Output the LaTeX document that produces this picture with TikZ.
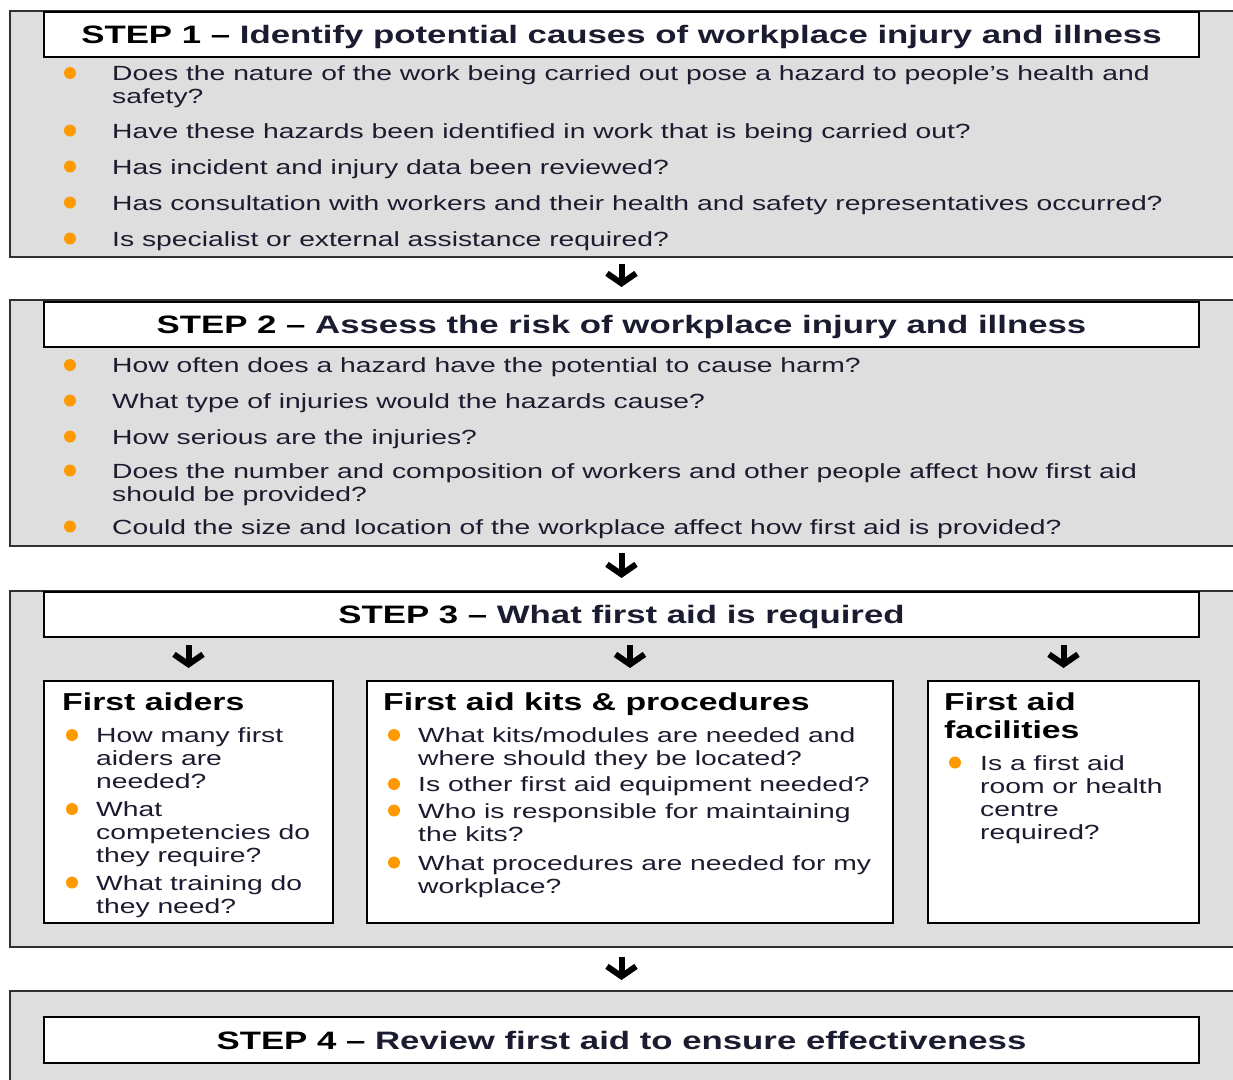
\documentclass[tikz,border=0pt]{standalone}
\usepackage{fontspec}
\setmainfont{Liberation Sans}[FakeStretch=1.38]
\usetikzlibrary{arrows.meta, positioning}

\definecolor{panelgray}{RGB}{222,222,222}
\definecolor{dotorange}{RGB}{255,153,0}
\definecolor{inkblue}{RGB}{28,28,48}
\definecolor{rulegray}{RGB}{48,48,48}

\tikzset{
  panel/.style={fill=panelgray, anchor=north west, inner sep=0pt, outer sep=0pt, minimum width=1223pt},
  panelrule/.style={draw=rulegray, line width=1.6pt},
  headbox/.style={draw=black, fill=white, line width=1.8pt, anchor=north west, outer sep=0pt,
    minimum width=1155pt, minimum height=45pt, inner sep=0pt, text height=21pt, text depth=3pt,
    font=\fontsize{25.2}{28}\selectfont\bfseries, text=inkblue},
  subbox/.style={draw=black, fill=white, line width=1.8pt, anchor=north west, outer sep=0pt,
    minimum height=242pt, inner sep=0pt},
  subtitle/.style={anchor=base west, inner sep=0pt, align=left, font=\fontsize{24.5}{28}\selectfont\bfseries},
  question/.style={anchor=base west, inner sep=0pt, align=left, font=\fontsize{20.5}{23}\selectfont, text=inkblue},
  dot/.style={circle, fill=dotorange, minimum size=12pt, inner sep=0pt},
  flowarrow/.style={line width=6pt, -{Straight Barb[length=10pt, width=29pt, line width=6pt]},
    shorten <=7pt, shorten >=13pt},
}

\begin{document}
\begin{tikzpicture}[x=1pt, y=-1pt]
  \useasboundingbox (0,0) rectangle (1233,1079);

  % grey step panels, open on the right
  \node[panel, minimum height=246pt] (panel1) at (10,11) {};
  \node[panel, minimum height=246pt] (panel2) at (10,300) {};
  \node[panel, minimum height=356pt] (panel3) at (10,591) {};
  \node[panel, minimum height=100pt] (panel4) at (10,991) {};
  \foreach \p in {1,2,3} {
    \draw[panelrule] (panel\p.north east) -- (panel\p.north west) -- (panel\p.south west) -- (panel\p.south east);
  };
  \draw[panelrule] (panel4.north east) -- (panel4.north west) -- (panel4.south west);

  \node[headbox] (head1) at (44,12) {\textcolor{black}{STEP 1 --} Identify potential causes of workplace injury and illness};
  \node[headbox] (head2) at (44,302) {\textcolor{black}{STEP 2 --} Assess the risk of workplace injury and illness};
  \node[headbox] (head3) at (44,592) {\textcolor{black}{STEP 3 --} What first aid is required};
  \node[headbox, minimum height=46pt] (head4) at (44,1017) {\textcolor{black}{STEP 4 --} Review first aid to ensure effectiveness};

  % \y = first baseline, \k = extra lines below it
  \foreach \n/\y/\k/\txt in {
    1/80.5/1/{Does the nature of the work being carried out pose a hazard to people's health and\\safety?},
    2/138/0/{Have these hazards been identified in work that is being carried out?},
    3/174/0/{Has incident and injury data been reviewed?},
    4/210/0/{Has consultation with workers and their health and safety representatives occurred?},
    5/246/0/{Is specialist or external assistance required?}} {
      \node[dot] (p1-dot-\n) at (70, \y-7.5) {};
      \node[question] (p1-q-\n) at (112, \y+23*\k) {\txt};
  };

  \foreach \n/\y/\k/\txt in {
    1/372.5/0/{How often does a hazard have the potential to cause harm?},
    2/408/0/{What type of injuries would the hazards cause?},
    3/444/0/{How serious are the injuries?},
    4/478/1/{Does the number and composition of workers and other people affect how first aid\\should be provided?},
    5/534/0/{Could the size and location of the workplace affect how first aid is provided?}} {
      \node[dot] (p2-dot-\n) at (70, \y-7.5) {};
      \node[question] (p2-q-\n) at (112, \y+23*\k) {\txt};
  };

  % step 3 splits into three boxes
  \node[subbox, minimum width=289pt] (box1) at (44,681) {};
  \node[subbox, minimum width=526pt] (box2) at (367,681) {};
  \node[subbox, minimum width=271pt] (box3) at (928,681) {};

  \node[subtitle] (box1-title) at (62,710) {First aiders};
  \node[subtitle] (box2-title) at (383,710) {First aid kits \& procedures};
  \node[subtitle] (box3-title) at (944,738) {First aid\\facilities};

  \foreach \n/\y/\k/\txt in {
    1/742.5/2/{How many first\\aiders are\\needed?},
    2/816.5/2/{What\\competencies do\\they require?},
    3/890/1/{What training do\\they need?}} {
      \node[dot] (b1-dot-\n) at (72, \y-7.5) {};
      \node[question] (b1-q-\n) at (96, \y+23*\k) {\txt};
  };

  \foreach \n/\y/\k/\txt in {
    1/742.5/1/{What kits/modules are needed and\\where should they be located?},
    2/791.5/0/{Is other first aid equipment needed?},
    3/818/1/{Who is responsible for maintaining\\the kits?},
    4/870/1/{What procedures are needed for my\\workplace?}} {
      \node[dot] (b2-dot-\n) at (394, \y-7.5) {};
      \node[question] (b2-q-\n) at (418, \y+23*\k) {\txt};
  };

  \node[dot] (b3-dot-1) at (955, 762.5) {};
  \node[question] (b3-q-1) at (980, 839) {Is a first aid\\room or health\\centre\\required?};

  \draw[flowarrow] (panel1.south) -- (panel2.north);
  \draw[flowarrow] (panel2.south) -- (panel3.north);
  \draw[flowarrow, shorten <=10pt, shorten >=11pt] (panel3.south) -- (panel4.north);
  \foreach \b in {1,2,3} {
    \draw[flowarrow, shorten <=8pt] (head3.south -| box\b.north) -- (box\b.north);
  };
\end{tikzpicture}
\end{document}
